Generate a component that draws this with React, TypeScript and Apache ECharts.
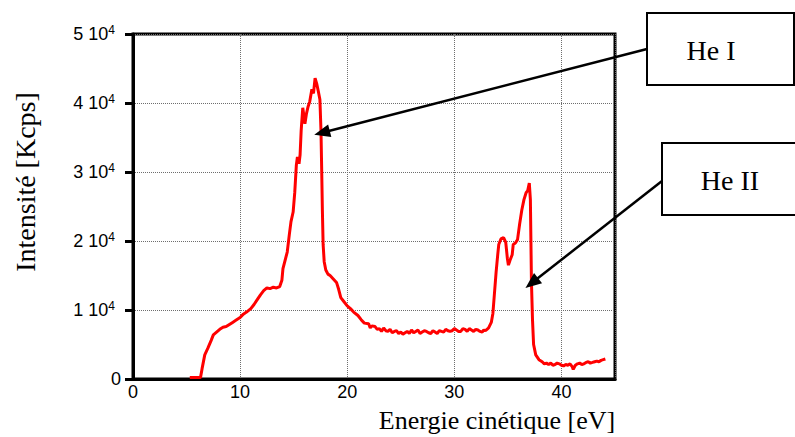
import React, { useEffect, useRef } from "react";
import * as echarts from "echarts";

// Kinetic energy (eV)
const energies = [
  5.3, 6.3, 6.45, 6.7, 7.0, 7.3, 7.5, 7.8, 8.1, 8.4, 8.7, 9.0, 9.3, 9.6, 10.0, 10.3, 10.6, 11.0, 11.3, 11.6,
  11.9, 12.2, 12.5, 12.8, 13.1, 13.4, 13.7, 13.9, 14.0, 14.2, 14.4, 14.6, 14.75, 14.95, 15.1, 15.25, 15.35, 15.5,
  15.6, 15.7, 15.85, 15.95, 16.05, 16.2, 16.35, 16.5, 16.7, 16.85, 17.0, 17.15, 17.3, 17.45, 17.55, 17.62, 17.68,
  17.75, 17.85, 18.0, 18.2, 18.4, 18.7, 19.0, 19.2, 19.4, 19.7, 20.0, 20.3, 20.6, 21.0, 21.3, 21.6, 22.0, 22.15, 22.3,
  22.6, 22.8, 23.0, 23.2, 23.4, 23.6, 23.8, 24.0, 24.2, 24.4, 24.6, 24.8, 25.0, 25.2, 25.4, 25.6, 25.8, 26.0, 26.2,
  26.4, 26.6, 26.8, 27.0, 27.2, 27.4, 27.6, 27.8, 28.0, 28.2, 28.4, 28.6, 28.8, 29.0, 29.2, 29.4, 29.6,
  29.8, 30.0, 30.2, 30.4, 30.6, 30.8, 31.0, 31.2, 31.4, 31.6, 31.8, 32.0, 32.2, 32.4, 32.6, 32.75, 32.9, 33.05, 33.2,
  33.45, 33.6, 33.75, 33.9, 34.05, 34.15, 34.35, 34.6, 34.8, 34.95, 35.05, 35.2, 35.4, 35.5, 35.7, 35.9, 36.1, 36.3,
  36.5, 36.7, 36.85, 37.0, 37.1, 37.15, 37.2, 37.3, 37.4, 37.6, 37.9, 38.2, 38.4, 38.6, 38.8, 39.0, 39.2, 39.4, 39.6,
  39.8, 40.0, 40.2, 40.4, 40.6, 40.8, 41.0, 41.1, 41.3, 41.5, 41.7, 41.9, 42.1, 42.3, 42.5, 42.7, 42.9, 43.1, 43.3,
  43.5, 43.7, 43.9, 44.1,
];

// Intensity (Kcps)
const intensities = [
  200, 200, 1500, 3500, 4500, 5600, 6400, 6800, 7200, 7500, 7600, 7900, 8200, 8500, 8900, 9400, 9700, 10200, 10800, 11500,
  12200, 12800, 13200, 13100, 13300, 13200, 13400, 14300, 16000, 17200, 18400, 21000, 22800, 24200, 27000, 31000, 32200, 31200,
  32500, 36000, 39300, 38200, 37000, 38500, 39500, 40200, 42000, 41400, 43600, 42800, 41700, 40500, 36000, 30000, 24500,
  19500, 17000, 15800, 15200, 15000, 14500, 14000, 13000, 11800, 11200, 10600, 10200, 9700, 9200, 8600, 8100, 8000, 7400, 7700,
  7600, 7200, 7300, 6900, 7400, 7000, 6900, 7200, 6700, 6900, 7000, 6600, 6800, 6500, 6700, 6900, 6600, 7100, 6700,
  6900, 7100, 6600, 6800, 7000, 6900, 6700, 6600, 7000, 6800, 6600, 7000, 6900, 6800, 7200, 7000, 6900,
  7000, 7300, 7100, 6900, 6900, 7300, 7200, 6900, 7300, 7100, 6900, 7200, 7100, 6900, 6800, 7100, 7000, 7200, 7400,
  8200, 9500, 12500, 15500, 18000, 19500, 20300, 20500, 19800, 17500, 16500, 17200, 18000, 19500, 19700, 20200, 22500, 24500,
  26000, 27000, 27300, 28400, 26000, 20000, 14000, 8500, 5000, 3500, 2800, 2500, 2200, 2300, 2100, 2300, 2000, 2100, 2300,
  2200, 2000, 1900, 2100, 2000, 2200, 1800, 1400, 2000, 2200, 2300, 2100, 2200, 2400, 2500, 2300, 2400, 2500, 2600,
  2500, 2700, 2800, 2900,
];

const xTicks = [0, 10, 20, 30, 40];
const yTickExponent = 4;

const xTitle = "Energie cinétique [eV]";
const yTitle = "Intensité [Kcps]";

// Annotation labels and the data points their arrows point to
const annotationLabels = ["He I", "He II"];
const annotationTargetEnergy = [16.92, 36.64];
const annotationTargetIntensity = [35400, 13200];

export default function App() {
  const ref = useRef<HTMLDivElement>(null);

  useEffect(() => {
    if (!ref.current) return;
    const chart = echarts.init(ref.current, null, { renderer: "svg" });
    const data = energies.map((e, i) => [e, intensities[i]]);

    chart.setOption({
      animation: false,
      grid: {
        left: 133,
        top: 34,
        width: 482,
        height: 345,
        show: true,
        borderColor: "#000",
        borderWidth: 3,
        backgroundColor: "transparent",
      },
      xAxis: {
        type: "value",
        min: 0,
        max: 45,
        interval: 10,
        axisLine: { show: true, lineStyle: { color: "#000", width: 3 } },
        axisTick: { show: false },
        axisLabel: {
          margin: 4,
          color: "#000",
          fontSize: 18,
          fontFamily: "Liberation Sans",
          formatter: (v: number) => (xTicks.includes(v) ? String(v) : ""),
        },
        splitLine: { show: true, lineStyle: { color: "#6e6e6e", type: "dotted", width: 1 } },
      },
      yAxis: {
        type: "value",
        min: 0,
        max: 50000,
        interval: 10000,
        axisLine: { show: true, lineStyle: { color: "#000", width: 3 } },
        axisTick: { show: true, inside: false, length: 8, lineStyle: { color: "#000", width: 3 } },
        axisLabel: {
          margin: 12,
          formatter: (v: number) =>
            v === 0 ? "{b|0}" : `{b|${v / Math.pow(10, yTickExponent)} 10}{s|${yTickExponent}}`,
          rich: {
            b: { fontSize: 18, fontFamily: "Liberation Sans", color: "#000", lineHeight: 20 },
            s: {
              fontSize: 12,
              fontFamily: "Liberation Sans",
              color: "#000",
              verticalAlign: "top",
              lineHeight: 20,
              padding: [0, 6, 8, 0],
            },
          },
        },
        splitLine: { show: true, lineStyle: { color: "#6e6e6e", type: "dotted", width: 1 } },
      },
      series: [
        {
          type: "line",
          data,
          showSymbol: false,
          symbol: "none",
          lineStyle: { color: "#ff0000", width: 3 },
        },
      ],
    });

    const boxes = [
      { x: 647, y: 13, w: 147, h: 72, from: [647, 49], tx: 711, ty: 50 },
      { x: 662, y: 143, w: 140, h: 72, from: [662, 181], tx: 730, ty: 180 },
    ];

    const graphics: any[] = [];
    boxes.forEach((b, i) => {
      const tip = chart.convertToPixel({ gridIndex: 0 }, [
        annotationTargetEnergy[i],
        annotationTargetIntensity[i],
      ]) as number[];
      const sx = b.from[0];
      const sy = b.from[1];
      const dx = tip[0] - sx;
      const dy = tip[1] - sy;
      const len = Math.sqrt(dx * dx + dy * dy);
      const ux = dx / len;
      const uy = dy / len;
      const L = 16;
      const W = 13;
      const bx = tip[0] - ux * L;
      const by = tip[1] - uy * L;
      const nx = -uy;
      const ny = ux;
      graphics.push({
        type: "line",
        shape: { x1: sx, y1: sy, x2: bx + ux * 2, y2: by + uy * 2 },
        style: { stroke: "#000", lineWidth: 2.5 },
        z: 100,
      });
      graphics.push({
        type: "polygon",
        shape: {
          points: [
            [tip[0], tip[1]],
            [bx + (nx * W) / 2, by + (ny * W) / 2],
            [bx - (nx * W) / 2, by - (ny * W) / 2],
          ],
        },
        style: { fill: "#000" },
        z: 100,
      });
      graphics.push({
        type: "rect",
        shape: { x: b.x, y: b.y, width: b.w, height: b.h },
        style: { fill: "#fff", stroke: "#000", lineWidth: 2 },
        z: 100,
      });
      graphics.push({
        type: "text",
        x: b.tx,
        y: b.ty,
        style: {
          text: annotationLabels[i],
          font: '28px "Liberation Serif"',
          fill: "#000",
          textAlign: "center",
          textVerticalAlign: "middle",
        },
        z: 101,
      });
    });

    graphics.push({
      type: "text",
      x: 497,
      y: 420,
      style: {
        text: xTitle,
        font: '26px "Liberation Serif"',
        fill: "#000",
        textAlign: "center",
        textVerticalAlign: "middle",
      },
    });
    graphics.push({
      type: "text",
      x: 25,
      y: 182,
      rotation: Math.PI / 2,
      style: {
        text: yTitle,
        font: '28px "Liberation Serif"',
        fill: "#000",
        textAlign: "center",
        textVerticalAlign: "middle",
      },
    });

    chart.setOption({ graphic: graphics });

    return () => chart.dispose();
  }, []);

  return (
    <div
      ref={ref}
      style={{ position: "fixed", left: 0, top: 0, width: 795, height: 437, background: "#fff" }}
    />
  );
}
